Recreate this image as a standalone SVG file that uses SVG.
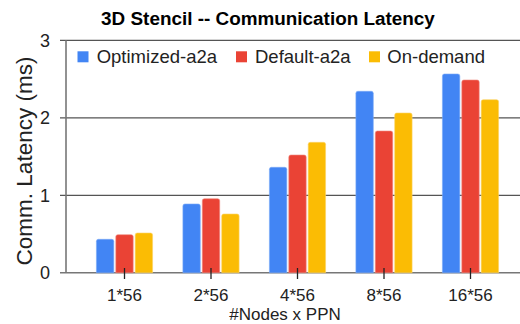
<svg xmlns="http://www.w3.org/2000/svg" width="520" height="324" viewBox="0 0 520 324">
  <style>
    text { font-family: "Liberation Sans", Arial, sans-serif; fill: #222; }
    .title { font-size: 18.9px; font-weight: bold; fill: #000; }
    .tick { font-size: 18px; }
    .cat { font-size: 17px; }
    .axis-title { font-size: 17px; }
    .ytitle { font-size: 22.5px; }
    .legend { font-size: 18.5px; }
    .grid { stroke: #555; stroke-width: 1.2; fill: none; }
    .axis { stroke: #777; stroke-width: 1.6; fill: none; }
    .xtick { stroke: #222; stroke-width: 1.3; }
    .s1 { fill: #4285F4; stroke: #7BAAF7; stroke-width: 0.6; }
    .s2 { fill: #EA4335; stroke: #F08A80; stroke-width: 0.6; }
    .s3 { fill: #FBBC04; stroke: #FCD468; stroke-width: 0.6; }
  </style>
  <rect width="520" height="324" fill="#fff"/>

  <text class="title" x="268" y="25" text-anchor="middle">3D Stencil -- Communication Latency</text>

  <!-- gridlines and axes -->
  <g id="axes">
    <line class="grid" x1="60" y1="40.3" x2="520" y2="40.3"/>
    <line class="grid" x1="60" y1="117.8" x2="520" y2="117.8"/>
    <line class="grid" x1="60" y1="195.3" x2="520" y2="195.3"/>
    <line class="axis" x1="60" y1="272.8" x2="520" y2="272.8"/>
    <line class="axis" x1="66" y1="40.3" x2="66" y2="272.8"/>
    <text class="tick" x="50" y="46.8" text-anchor="end">3</text>
    <text class="tick" x="50" y="124.3" text-anchor="end">2</text>
    <text class="tick" x="50" y="201.8" text-anchor="end">1</text>
    <text class="tick" x="50" y="279.3" text-anchor="end">0</text>
    <text class="ytitle" transform="translate(32,161) rotate(-90)" text-anchor="middle">Comm. Latency (ms)</text>
  </g>

  <!-- bars: blue = Optimized-a2a, red = Default-a2a, yellow = On-demand -->
  <g id="series-optimized">
    <path class="s1" d="M96.4,272.8V241.3Q96.4,239.3 98.4,239.3H111.8Q113.8,239.3 113.8,241.3V272.8Z"/>
    <path class="s1" d="M182.9,272.8V206Q182.9,204 184.9,204H198.3Q200.3,204 200.3,206V272.8Z"/>
    <path class="s1" d="M269.4,272.8V169.3Q269.4,167.3 271.4,167.3H284.8Q286.8,167.3 286.8,169.3V272.8Z"/>
    <path class="s1" d="M355.9,272.8V93.3Q355.9,91.3 357.9,91.3H371.3Q373.3,91.3 373.3,93.3V272.8Z"/>
    <path class="s1" d="M442.4,272.8V76Q442.4,74 444.4,74H457.8Q459.8,74 459.8,76V272.8Z"/>
  </g>
  <g id="series-default">
    <path class="s2" d="M115.8,272.8V236.7Q115.8,234.7 117.8,234.7H131.2Q133.2,234.7 133.2,236.7V272.8Z"/>
    <path class="s2" d="M202.3,272.8V200.7Q202.3,198.7 204.3,198.7H217.7Q219.7,198.7 219.7,200.7V272.8Z"/>
    <path class="s2" d="M288.8,272.8V157Q288.8,155 290.8,155H304.2Q306.2,155 306.2,157V272.8Z"/>
    <path class="s2" d="M375.3,272.8V133Q375.3,131 377.3,131H390.7Q392.7,131 392.7,133V272.8Z"/>
    <path class="s2" d="M461.8,272.8V82Q461.8,80 463.8,80H477.2Q479.2,80 479.2,82V272.8Z"/>
  </g>
  <g id="series-ondemand">
    <path class="s3" d="M135.2,272.8V235Q135.2,233 137.2,233H150.6Q152.6,233 152.6,235V272.8Z"/>
    <path class="s3" d="M221.7,272.8V216Q221.7,214 223.7,214H237.1Q239.1,214 239.1,216V272.8Z"/>
    <path class="s3" d="M308.2,272.8V144.3Q308.2,142.3 310.2,142.3H323.6Q325.6,142.3 325.6,144.3V272.8Z"/>
    <path class="s3" d="M394.7,272.8V115Q394.7,113 396.7,113H410.1Q412.1,113 412.1,115V272.8Z"/>
    <path class="s3" d="M481.2,272.8V101.7Q481.2,99.7 483.2,99.7H496.6Q498.6,99.7 498.6,101.7V272.8Z"/>
  </g>

  <!-- category ticks and labels -->
  <g id="x-axis">
    <line class="xtick" x1="124.5" y1="268" x2="124.5" y2="279"/>
    <line class="xtick" x1="211" y1="268" x2="211" y2="279"/>
    <line class="xtick" x1="297.5" y1="268" x2="297.5" y2="279"/>
    <line class="xtick" x1="384" y1="268" x2="384" y2="279"/>
    <line class="xtick" x1="470.5" y1="268" x2="470.5" y2="279"/>
    <text class="cat" x="124.5" y="301.2" text-anchor="middle">1*56</text>
    <text class="cat" x="211" y="301.2" text-anchor="middle">2*56</text>
    <text class="cat" x="297.5" y="301.2" text-anchor="middle">4*56</text>
    <text class="cat" x="384" y="301.2" text-anchor="middle">8*56</text>
    <text class="cat" x="470.5" y="301.2" text-anchor="middle">16*56</text>
    <text class="axis-title" x="285" y="320.3" text-anchor="middle">#Nodes x PPN</text>
  </g>

  <!-- legend -->
  <g id="legend">
    <rect x="77.5" y="51.3" width="11" height="11" fill="#4285F4"/>
    <text class="legend" x="96.7" y="62.7">Optimized-a2a</text>
    <rect x="236" y="51.3" width="11" height="11" fill="#EA4335"/>
    <text class="legend" x="255" y="62.7">Default-a2a</text>
    <rect x="369" y="51.3" width="11" height="11" fill="#FBBC04"/>
    <text class="legend" x="387.3" y="62.7">On-demand</text>
  </g>
</svg>
